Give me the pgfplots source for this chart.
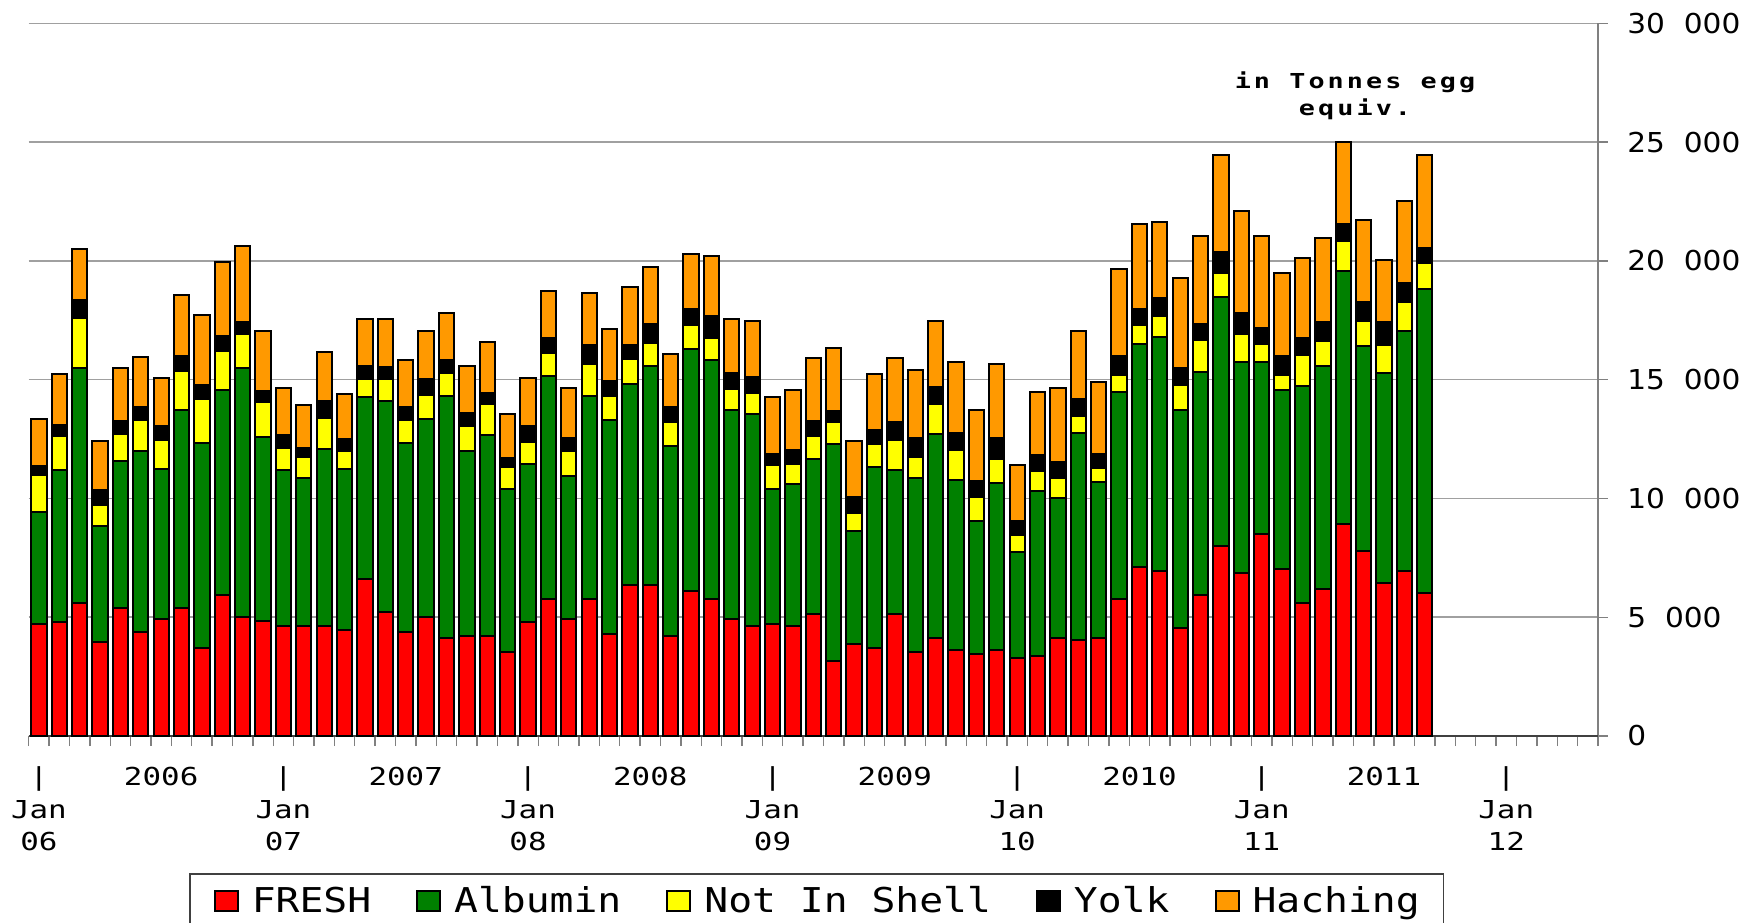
\documentclass[border=0pt]{standalone}
\usepackage{pgfplots}
\pgfplotsset{compat=1.18}
\usepackage{pgfplotstable}
\usepackage{fontspec}
\setmainfont{DejaVu Sans}
\newfontfamily\yfont[FakeStretch=1.08]{DejaVu Sans}
\newfontfamily\xfont[FakeStretch=1.25]{DejaVu Sans Mono}
\newfontfamily\legfont[FakeStretch=1.16]{DejaVu Sans Mono}
\newfontfamily\notefont[FakeStretch=1.3,LetterSpace=15]{DejaVu Sans Mono}
\definecolor{cfresh}{HTML}{FF0000}
\definecolor{calb}{HTML}{008000}
\definecolor{cnis}{HTML}{FFFF00}
\definecolor{cyolk}{HTML}{000000}
\definecolor{chatch}{HTML}{FF9900}
\definecolor{gridgray}{HTML}{A0A0A0}
\definecolor{axgray}{HTML}{808080}
\definecolor{basegray}{HTML}{404040}
\newcommand\gap{\phantom{0}}
\tikzset{xlab/.style={font=\xfont\fontsize{12.35}{14}\selectfont, anchor=base, inner sep=0pt}}

% monthly, tonnes egg equiv., m=0 is Jan 2006
\pgfplotstableread{
m fresh alb nis yolk hatch
0 4720 4710 1550 390 1960
1 4790 6400 1440 480 2130
2 5610 9870 2120 740 2150
3 3960 4880 900 630 2050
4 5380 6200 1120 560 2230
5 4380 7620 1290 550 2130
6 4940 6300 1240 560 2050
7 5390 8350 1640 620 2570
8 3710 8630 1860 560 2980
9 5950 8630 1630 630 3120
10 5020 10460 1450 490 3210
11 4860 7720 1470 480 2520
12 4630 6560 950 550 1960
13 4630 6230 890 390 1800
14 4630 7470 1290 720 2060
15 4450 6810 730 530 1890
16 6620 7630 780 560 1980
17 5210 8880 940 490 2050
18 4380 7960 950 550 1980
19 5020 8330 1020 660 2020
20 4130 10190 960 550 1980
21 4210 7800 1040 550 1980
22 4210 8450 1300 480 2140
23 3540 6870 920 390 1850
24 4790 6650 940 660 2050
25 5780 9360 1000 600 2000
26 4940 6010 1040 540 2120
27 5750 8570 1360 760 2210
28 4310 9010 980 630 2220
29 6370 8440 1040 590 2470
30 6370 9210 950 830 2370
31 4210 7990 1020 620 2240
32 6110 10200 970 710 2300
33 5780 10040 950 900 2540
34 4940 8770 900 670 2280
35 4630 8940 870 680 2350
36 4720 5690 990 470 2390
37 4630 5990 850 560 2550
38 5140 6540 950 650 2620
39 3160 9120 940 460 2660
40 3870 4760 760 650 2380
41 3690 7640 950 600 2360
42 5140 6050 1290 730 2690
43 3550 7310 890 780 2880
44 4130 8600 1230 730 2780
45 3610 7180 1270 710 2960
46 3440 5600 1020 680 3000
47 3610 7060 970 890 3130
48 3300 4460 720 570 2370
49 3370 6960 810 680 2660
50 4130 5890 860 660 3110
51 4040 8720 700 740 2850
52 4130 6550 620 590 3020
53 5750 8730 720 800 3650
54 7100 9380 800 710 3570
55 6930 9860 890 750 3210
56 4550 9160 1050 750 3790
57 5950 9380 1360 670 3680
58 8010 10470 1030 870 4060
59 6860 8890 1190 880 4300
60 8520 7230 770 660 3860
61 7030 7550 610 800 3490
62 5610 9130 1290 730 3370
63 6190 9370 1060 800 3530
64 8930 10630 1280 730 3450
65 7790 8620 1040 810 3450
66 6460 8800 1190 970 2620
67 6950 10100 1220 790 3450
68 6020 12800 1080 660 3880
}\eggs

\begin{document}
\begin{tikzpicture}
\useasboundingbox (-14.35pt,-93pt) rectangle (858.65pt,368pt);
\begin{axis}[
  scale only axis, width=784.65pt, height=356.35pt,
  xmin=-0.5, xmax=76.5, ymin=0, ymax=30000,
  ybar stacked, bar width=0.75, clip=false,
  axis line style={draw=none},
  xtick={-0.5,0.5,...,76.5}, xticklabels={},
  ytick={0,5000,...,30000}, scaled y ticks=false,
  yticklabels={{0},{5\gap000},{10\gap000},{15\gap000},{20\gap000},{25\gap000},{30\gap000}},
  xtick pos=bottom, ytick pos=right, yticklabel pos=right,
  tick align=outside, major tick length=5pt,
  tick style={line width=0.7pt, color=axgray},
  yticklabel style={font=\yfont\fontsize{13.7}{16}\selectfont, anchor=west, inner sep=0pt, xshift=9.5pt},
  ymajorgrids, grid style={gridgray, line width=0.75pt},
  every axis plot/.append style={draw=black, line width=1pt},
  legend image code/.code={\draw[#1] (0pt,-5pt) rectangle (11.5pt,5pt);},
  legend columns=5,
  legend style={at={(0.10215,-0.19223)}, anchor=north west, draw=basegray, line width=0.75pt,
    font=\legfont\fontsize{17.1}{20}\selectfont, inner xsep=12pt, inner ysep=6.5pt,
    nodes={inner sep=0pt},
    /tikz/every odd column/.append style={column sep=6.5pt},
    /tikz/every even column/.append style={column sep=22.5pt}},
]
\addplot[fill=cfresh] table[x=m,y=fresh]{\eggs};
\addlegendentry{FRESH}
\addplot[fill=calb] table[x=m,y=alb]{\eggs};
\addlegendentry{Albumin}
\addplot[fill=cnis] table[x=m,y=nis]{\eggs};
\addlegendentry{Not In Shell}
\addplot[fill=cyolk] table[x=m,y=yolk]{\eggs};
\addlegendentry{Yolk}
\addplot[fill=chatch] table[x=m,y=hatch]{\eggs};
\addlegendentry{Haching}
\draw[basegray, line width=1pt] (axis cs:-0.5,0) -- (axis cs:76.5,0);
\draw[axgray, line width=1pt] (axis cs:76.5,0) -- (axis cs:76.5,30000);
\node[xlab] at (axis cs:0,0)  [yshift=-24.5pt] {|};
\node[xlab] at (axis cs:12,0) [yshift=-24.5pt] {|};
\node[xlab] at (axis cs:24,0) [yshift=-24.5pt] {|};
\node[xlab] at (axis cs:36,0) [yshift=-24.5pt] {|};
\node[xlab] at (axis cs:48,0) [yshift=-24.5pt] {|};
\node[xlab] at (axis cs:60,0) [yshift=-24.5pt] {|};
\node[xlab] at (axis cs:72,0) [yshift=-24.5pt] {|};
\node[xlab] at (axis cs:6,0)  [yshift=-24.5pt] {2006};
\node[xlab] at (axis cs:18,0) [yshift=-24.5pt] {2007};
\node[xlab] at (axis cs:30,0) [yshift=-24.5pt] {2008};
\node[xlab] at (axis cs:42,0) [yshift=-24.5pt] {2009};
\node[xlab] at (axis cs:54,0) [yshift=-24.5pt] {2010};
\node[xlab] at (axis cs:66,0) [yshift=-24.5pt] {2011};
\node[xlab] at (axis cs:0,0)  [yshift=-41pt] {Jan};
\node[xlab] at (axis cs:12,0) [yshift=-41pt] {Jan};
\node[xlab] at (axis cs:24,0) [yshift=-41pt] {Jan};
\node[xlab] at (axis cs:36,0) [yshift=-41pt] {Jan};
\node[xlab] at (axis cs:48,0) [yshift=-41pt] {Jan};
\node[xlab] at (axis cs:60,0) [yshift=-41pt] {Jan};
\node[xlab] at (axis cs:72,0) [yshift=-41pt] {Jan};
\node[xlab] at (axis cs:0,0)  [yshift=-57pt] {06};
\node[xlab] at (axis cs:12,0) [yshift=-57pt] {07};
\node[xlab] at (axis cs:24,0) [yshift=-57pt] {08};
\node[xlab] at (axis cs:36,0) [yshift=-57pt] {09};
\node[xlab] at (axis cs:48,0) [yshift=-57pt] {10};
\node[xlab] at (axis cs:60,0) [yshift=-57pt] {11};
\node[xlab] at (axis cs:72,0) [yshift=-57pt] {12};
\end{axis}
\node[font=\notefont\bfseries\fontsize{10.3}{12}\selectfont, anchor=base] at (663.15pt,323.85pt) {in Tonnes egg};
\node[font=\notefont\bfseries\fontsize{10.3}{12}\selectfont, anchor=base] at (663.15pt,310pt) {equiv.};
\end{tikzpicture}
\end{document}
